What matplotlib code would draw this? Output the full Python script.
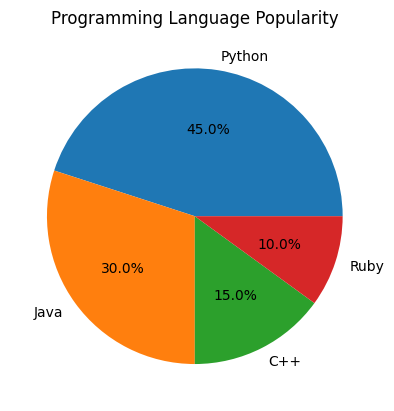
import matplotlib
matplotlib.use('Agg')
import matplotlib.pyplot as plt

languages = ['Python', 'Java', 'C++', 'Ruby']
popularity = [45, 30, 15, 10]

plt.figure()
plt.pie(popularity, labels=languages, autopct='%1.1f%%')
plt.title('Programming Language Popularity')
plt.savefig('out.png', bbox_inches='tight')
